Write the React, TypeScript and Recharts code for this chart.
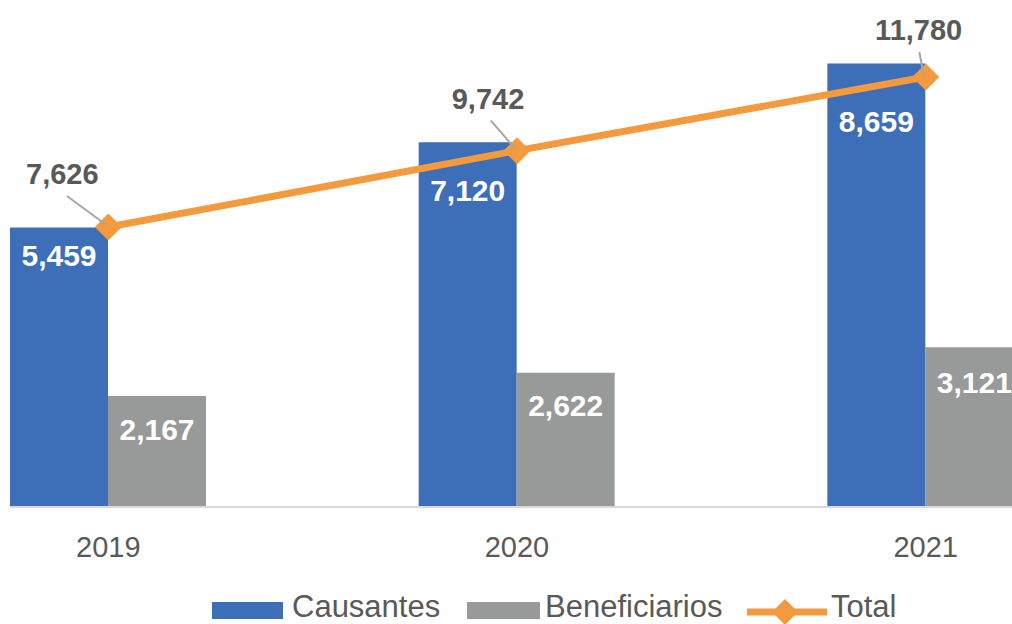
import React from 'react';
import { ComposedChart, Bar, Line, XAxis, YAxis, LabelList } from 'recharts';

const years = ['2019', '2020', '2021'];
const causantes = [5459, 7120, 8659];
const beneficiarios = [2167, 2622, 3121];
const totals = [7626, 9742, 11780];

const BLUE = '#3d6eb8';
const GRAY = '#989a9a';
const ORANGE = '#f39a3e';
const TEXT = '#595959';
const FONT = '"Liberation Sans", Arial, sans-serif';

// distance from bar top to label centre (Excel had them nudged by hand)
const causLabelDrop = [28, 48, 58];
const benefLabelDrop = [33, 33, 35];
// where each total label sits relative to its marker
const totalLabelShift = [
  { dx: -46, dy: -53 },
  { dx: -29, dy: -52 },
  { dx: -7, dy: -47 },
];

const data = years.map((year, i) => ({
  year,
  causantes: causantes[i],
  beneficiarios: beneficiarios[i],
  total: totals[i],
}));

const fmt = (v: number) => v.toLocaleString('en-US');

const barLabel = (drops: number[]) => (props: any) => {
  const { x, y, width, value, index } = props;
  return (
    <text
      x={x + width / 2}
      y={y + drops[index]}
      textAnchor="middle"
      dominantBaseline="central"
      fill="#fff"
      fontSize={30}
      fontWeight="bold"
      fontFamily={FONT}
    >
      {fmt(value)}
    </text>
  );
};

const totalLabel = (props: any) => {
  const { x, y, value, index } = props;
  const s = totalLabelShift[index];
  const lx = x + s.dx;
  const ly = y + s.dy;
  return (
    <g>
      <line
        x1={lx + (x - lx) * 0.1}
        y1={ly + 22}
        x2={x - 2}
        y2={y - 2}
        stroke="#a6a6a6"
        strokeWidth={2}
      />
      <text
        x={lx}
        y={ly}
        textAnchor="middle"
        dominantBaseline="central"
        fill={TEXT}
        fontSize={29}
        fontWeight="bold"
        fontFamily={FONT}
      >
        {fmt(value)}
      </text>
    </g>
  );
};

const Diamond = (props: any) => {
  const { cx, cy, index } = props;
  const r = 13.5;
  return (
    <polygon
      key={`d-${index}`}
      points={`${cx},${cy - r} ${cx + r},${cy} ${cx},${cy + r} ${cx - r},${cy}`}
      fill={ORANGE}
    />
  );
};

const Legend = () => (
  <svg width={1012} height={40} style={{ position: 'absolute', left: 0, top: 584 }}>
    <g fontFamily={FONT} fontSize={31} fill={TEXT}>
      <rect x={212} y={18} width={71} height={17} fill={BLUE} />
      <text x={292} y={33}>Causantes</text>
      <rect x={467} y={18} width={73} height={17} fill={GRAY} />
      <text x={545} y={33}>Beneficiarios</text>
      <line x1={747} y1={28} x2={827} y2={28} stroke={ORANGE} strokeWidth={7} />
      <polygon points="785,15 798,28 785,41 772,28" fill={ORANGE} />
      <text x={831} y={33}>Total</text>
    </g>
  </svg>
);

export default function App() {
  return (
    <div style={{ position: 'relative', width: 1012, height: 624, background: '#fff', overflow: 'hidden' }}>
      <style>{`body{margin:0}`}</style>
      <div style={{ position: 'absolute', left: 10, top: 0, width: 1002, height: 624, overflow: 'hidden' }}>
        <div style={{ position: 'absolute', left: -106.5, top: 0 }}>
          <ComposedChart
            width={1226}
            height={624}
            data={data}
            margin={{ top: 46, right: 0, left: 0, bottom: 57 }}
            barGap={0}
          >
            <XAxis
              dataKey="year"
              height={60}
              tickLine={false}
              tickSize={0}
              tickMargin={29}
              axisLine={{ stroke: '#d9d9d9', strokeWidth: 2 }}
              tick={{ fill: TEXT, fontSize: 29, fontFamily: FONT }}
            />
            <YAxis yAxisId="bar" hide domain={[0, 9000]} />
            <YAxis yAxisId="line" hide domain={[-127, 12640]} orientation="right" />
            <Bar yAxisId="bar" dataKey="causantes" fill={BLUE} barSize={98} isAnimationActive={false}>
              <LabelList dataKey="causantes" content={barLabel(causLabelDrop)} />
            </Bar>
            <Bar yAxisId="bar" dataKey="beneficiarios" fill={GRAY} barSize={98} isAnimationActive={false}>
              <LabelList dataKey="beneficiarios" content={barLabel(benefLabelDrop)} />
            </Bar>
            <Line
              yAxisId="line"
              dataKey="total"
              stroke={ORANGE}
              strokeWidth={7}
              dot={Diamond}
              activeDot={false}
              isAnimationActive={false}
            >
              <LabelList dataKey="total" content={totalLabel} />
            </Line>
          </ComposedChart>
        </div>
      </div>
      <Legend />
    </div>
  );
}
